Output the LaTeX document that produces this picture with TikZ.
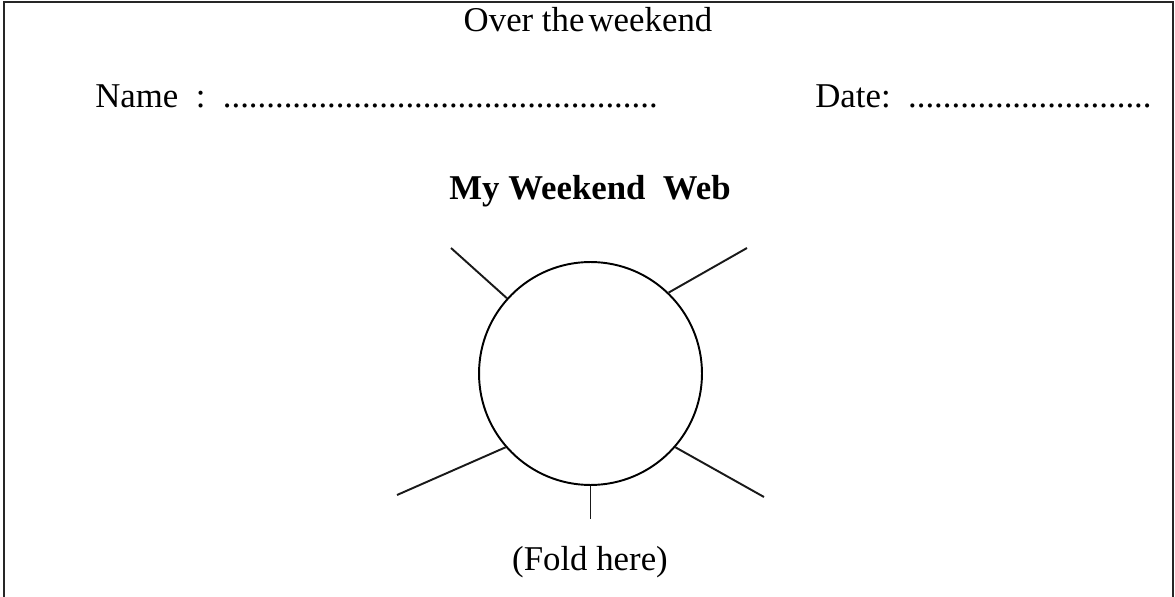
\documentclass[tikz,border=0pt]{standalone}
\usepackage{fontspec}
\setmainfont{Liberation Serif}
\usetikzlibrary{positioning}

\begin{document}
\begin{tikzpicture}[
      x=0.02cm, y=-0.02cm,
      frame/.style={line width=1.5pt, black!85},
      spoke/.style={line width=1.1pt, black!90},
      label/.style={font=\fontsize{19.8}{23}\selectfont, inner sep=0pt},
      heading/.style={label, font=\fontsize{19.8}{23}\selectfont\bfseries}
    ]
    
    \useasboundingbox (0,0) rectangle (1175,597);
    
    % -------- frame (open at the bottom) --------
    \draw[frame] (4,597) -- (4,2) -- (1173,2) -- (1173,597);
    
    % -------- header --------
    \node[label, anchor=base] (title) at (588,32) {Over the\hspace{0.12em}weekend};
    \node[label, anchor=base west] (name) at (95,108)
      {Name\ \ :\ \ \foreach \i in {1,...,50}{.}};
    \node[label, anchor=base west] (date) at (815,108)
      {Date:\ \ \foreach \i in {1,...,28}{.}};
    \node[heading, anchor=base] (web) at (590,200) {My Weekend\ \ Web};
    
    % -------- web --------
    \node[draw, circle, line width=1.1pt, minimum size=4.46cm, inner sep=0pt] (hub) at (590.5,373.5) {};
    
    \coordinate (ul) at (451,248);
    \coordinate (ur) at (747,248);
    \coordinate (ll) at (397,495);
    \coordinate (lr) at (764,497);
    \coordinate (bt) at (588,519);
    
    \draw[spoke] (hub.138.6) -- (ul);
    \draw[spoke] (hub.46) -- (ur);
    \draw[spoke] (hub.221) -- (ll);
    \draw[spoke] (hub.319.6) -- (lr);
    \draw[spoke] (hub.south) -- (hub.south |- bt);
    
    \node[label, anchor=base] (fold) at (590,570) {(Fold here)};
    
\end{tikzpicture}
\end{document}
